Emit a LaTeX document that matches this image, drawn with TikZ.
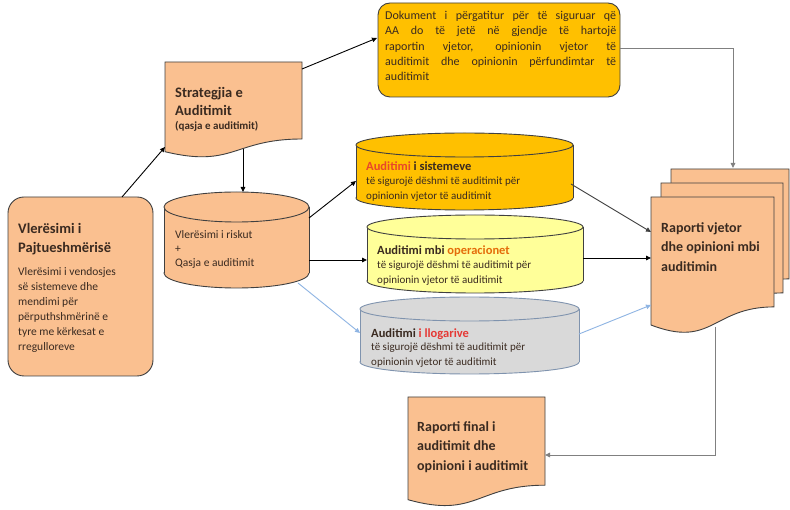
\documentclass[tikz,border=0pt]{standalone}
\usepackage{fontspec}
\setmainfont{Carlito}
\usetikzlibrary{arrows.meta}
\definecolor{peach}{HTML}{FAC090}
\definecolor{gold}{HTML}{FFC000}
\definecolor{paleyellow}{HTML}{FFFF99}
\definecolor{cylgray}{HTML}{D9D9D9}
\definecolor{edge}{HTML}{404040}
\definecolor{bluegray}{HTML}{7F93AE}
\definecolor{txt}{HTML}{3A2A20}
\definecolor{redorange}{HTML}{E8472A}
\definecolor{orangetxt}{HTML}{E46C0A}
\definecolor{redtxt}{HTML}{E53935}
\definecolor{lineblue}{HTML}{8EB4E3}
\definecolor{linegray}{HTML}{808080}
\newcommand\myfs[2]{\fontsize{#1}{#2}\selectfont}
% \mycyl{L}{R}{T}{B}{fill}{draw}{ry}
\newcommand\mycyl[7]{%
  \pgfmathsetmacro\cx{(#1+#2)/2}\pgfmathsetmacro\rx{(#2-#1)/2}%
  \pgfmathsetmacro\yt{#3+#7}\pgfmathsetmacro\yb{#4-#7}%
  \filldraw[fill=#5,draw=#6,line width=0.9pt] (\cx,\yb) ellipse[x radius=\rx pt, y radius=#7pt];
  \fill[#5] (#1,\yt) rectangle (#2,\yb);
  \draw[#6,line width=0.9pt] (#1,\yt) -- (#1,\yb) (#2,\yt) -- (#2,\yb);
  \filldraw[fill=#5,draw=#6,line width=0.9pt] (\cx,\yt) ellipse[x radius=\rx pt, y radius=#7pt];
}
\begin{document}
\begin{tikzpicture}[x=1pt,y=-1pt,
  shapeline/.style={draw=edge,line width=0.9pt},
  arr/.style={-{Triangle[length=5pt,width=4.5pt]},line width=0.9pt,draw=#1},
  arr/.default=black,
  txtnode/.style={inner sep=0pt,anchor=north west,align=left,text=txt},
  titlefont/.style={font=\bfseries\myfs{14.5}{19.5}},
  bodyfont/.style={font=\myfs{11.5}{15}},
  cyltitle/.style={font=\bfseries\myfs{12.5}{14.5}},
  cylbody/.style={font=\myfs{11}{14.5}}]
\useasboundingbox (0,0) rectangle (790,510);
\fill[white] (0,0) rectangle (790,510);

% left rounded box
\filldraw[fill=peach,shapeline,rounded corners=16pt] (8,197) rectangle (153,376);
\node[txtnode,titlefont] (pajt) at (18,223) {Vlerësimi i\\Pajtueshmërisë};
\node[txtnode,bodyfont] (pajtbody) at (18,267) {Vlerësimi i vendosjes\\së sistemeve dhe\\mendimi për\\përputhshmërinë e\\tyre me kërkesat e\\rregulloreve};

% Strategjia document
\filldraw[fill=peach,shapeline] (165,62) -- (302,62) -- (302,139)
  .. controls (233.5,139) and (233.5,168.3) .. (165,151.7) -- cycle;
\node[txtnode,font=\bfseries\myfs{14.5}{18}] (strat) at (175,87) {Strategjia e\\Auditimit};
\node[txtnode,font=\bfseries\myfs{11}{13}] (stratsub) at (175,121) {(qasja e auditimit)};

% Dokument box
\filldraw[fill=gold,shapeline,rounded corners=12pt] (378,3) rectangle (620,97);
\node[txtnode,text width=231pt,align=justify,font=\myfs{12}{15.3}] (dok) at (385,11)
  {Dokument i përgatitur për të siguruar që\linebreak AA do të jetë në gjendje të hartojë\linebreak raportin vjetor, opinionin vjetor të\linebreak auditimit dhe opinionin përfundimtar të\linebreak auditimit};

% risk cylinder
\mycyl{164}{309}{192}{288}{peach}{edge}{15}
\node[txtnode,font=\myfs{11.5}{14.3}] (risk) at (175,230) {Vlerësimi i riskut\\+\\Qasja e auditimit};

% audit cylinders
\mycyl{356}{573}{133}{210}{gold}{edge}{12}
\node[txtnode,cyltitle] (sys) at (366,162) {\textcolor{redorange}{Auditimi} i sistemeve};
\node[txtnode,cylbody] (sysbody) at (366,177) {të sigurojë dëshmi të auditimit për\\opinionin vjetor të auditimit};

\mycyl{367}{583}{215}{293}{paleyellow}{edge}{12}
\node[txtnode,cyltitle] (ops) at (377,246) {Auditimi mbi \textcolor{orangetxt}{operacionet}};
\node[txtnode,cylbody] (opsbody) at (377,261) {të sigurojë dëshmi të auditimit për\\opinionin vjetor të auditimit};

\mycyl{360}{579}{297}{374}{cylgray}{bluegray}{12}
\node[txtnode,cyltitle] (acc) at (371,329) {Auditimi \textcolor{redtxt}{i llogarive}};
\node[txtnode,cylbody] (accbody) at (371,343) {të sigurojë dëshmi të auditimit për\\opinionin vjetor të auditimit};

% report stack
\filldraw[fill=peach,shapeline] (671,169) -- (789,169) -- (789,278.9)
  .. controls (730,278.9) and (730,320.7) .. (671,297) -- cycle;
\filldraw[fill=peach,shapeline] (661,183) -- (783,183) -- (783,292.9)
  .. controls (722,292.9) and (722,334.7) .. (661,311) -- cycle;
\filldraw[fill=peach,shapeline] (651,197) -- (774,197) -- (774,306.9)
  .. controls (712.5,306.9) and (712.5,348.7) .. (651,325) -- cycle;
\node[txtnode,font=\bfseries\myfs{14}{19.5}] (vjet) at (661,222) {Raporti vjetor\\dhe opinioni mbi\\auditimin};

% final report
\filldraw[fill=peach,shapeline] (408,397) -- (545,397) -- (545,485.2)
  .. controls (476.5,485.2) and (476.5,518.8) .. (408,499.7) -- cycle;
\node[txtnode,font=\bfseries\myfs{14}{19.5}] (final) at (417,421) {Raporti final i\\auditimit dhe\\opinioni i auditimit};

% connector endpoints
\coordinate (pajt-out) at (122,197);
\coordinate (strat-in) at (165,147);
\coordinate (strat-out) at (302,69);
\coordinate (dok-in) at (377,38);
\coordinate (dok-out) at (620,48);
\coordinate (vjet-top) at (733,168);
\coordinate (strat-bot) at (243,149);
\coordinate (risk-top) at (243,192);
\coordinate (risk-o1) at (309,218);
\coordinate (sys-in) at (356,181);
\coordinate (risk-o2) at (309,260);
\coordinate (ops-in) at (367,260);
\coordinate (risk-o3) at (298,283);
\coordinate (acc-in) at (360,333);
\coordinate (sys-out) at (571,184);
\coordinate (vjet-in1) at (651,232);
\coordinate (ops-out) at (583,258);
\coordinate (vjet-in2) at (651,258);
\coordinate (acc-out) at (579,334);
\coordinate (vjet-in3) at (651,305);
\coordinate (vjet-bot) at (715,327);
\coordinate (final-in) at (545,455);

% connectors
\draw[arr] (pajt-out) -- (strat-in);
\draw[arr] (strat-out) -- (dok-in);
\draw[arr=linegray] (dok-out) -| (vjet-top);
\draw[arr] (strat-bot) -- (risk-top);
\draw[arr] (risk-o1) -- (sys-in);
\draw[arr] (risk-o2) -- (ops-in);
\draw[arr=lineblue] (risk-o3) -- (acc-in);
\draw[arr=edge] (sys-out) -- (vjet-in1);
\draw[arr] (ops-out) -- (vjet-in2);
\draw[arr=lineblue] (acc-out) -- (vjet-in3);
\draw[arr=linegray] (vjet-bot) |- (final-in);
\end{tikzpicture}
\end{document}
